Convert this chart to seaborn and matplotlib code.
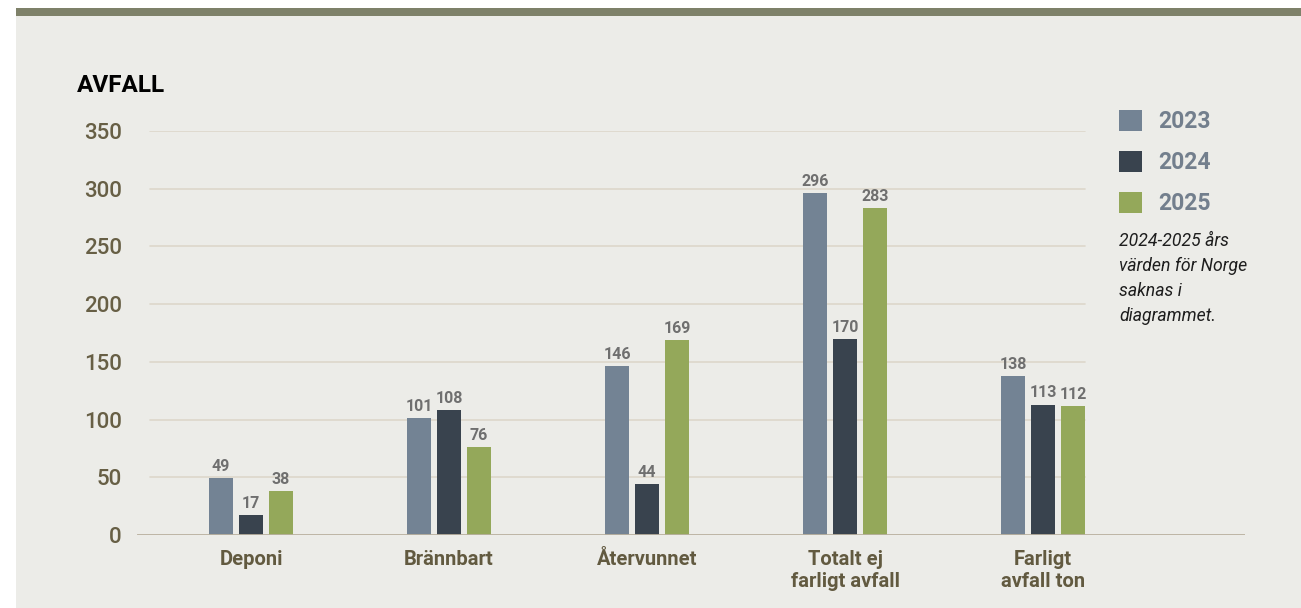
import matplotlib
matplotlib.use("Agg")
import matplotlib.pyplot as plt
import seaborn as sns
import pandas as pd
from matplotlib.patches import Rectangle

categories = ["Deponi", "Brännbart", "Återvunnet", "Totalt ej\nfarligt avfall", "Farligt\navfall ton"]
years = ["2023", "2024", "2025"]
values_2023 = [49, 101, 146, 296, 138]
values_2024 = [17, 108, 44, 170, 113]
values_2025 = [38, 76, 169, 283, 112]
yticks = [0, 50, 100, 150, 200, 250, 300, 350]
colors = ["#738394", "#39434e", "#94a85a"]
note = "2024-2025 års\nvärden för Norge\nsaknas i\ndiagrammet."

rows = []
for yr, vals in zip(years, [values_2023, values_2024, values_2025]):
    for c, v in zip(categories, vals):
        rows.append({"cat": c, "year": yr, "val": v})
df = pd.DataFrame(rows)

sns.set_theme(style="white")
plt.rcParams["font.family"] = ["Roboto", "DejaVu Sans"]

W, H = 1301, 608
fig = plt.figure(figsize=(W / 100, H / 100), dpi=100, facecolor="white")
bg = "#ecece8"
fig.patches.append(Rectangle((16 / W, 0), 1 - 16 / W, 1 - 8 / H, transform=fig.transFigure,
                             facecolor=bg, edgecolor="none", zorder=-10))
fig.patches.append(Rectangle((16 / W, 1 - 16 / H), 1 - 16 / W, 8 / H, transform=fig.transFigure,
                             facecolor="#7e8169", edgecolor="none", zorder=-9))

left, right = 137 / W, 1245 / W
bottom, top = 1 - 535 / H, 1 - 131 / H
ax = fig.add_axes([left, bottom, right - left, top - bottom])
ax.set_facecolor("none")

sns.barplot(data=df, x="cat", y="val", hue="year", palette=colors, width=0.455, gap=0.2,
            ax=ax, saturation=1, legend=True, zorder=3, linewidth=0, edgecolor="none")

ax.set_xlim(-0.576, 5.02)
ax.set_ylim(0, 350)
for s in ax.spines.values():
    s.set_visible(False)

x0 = (150 - 137) / (1245 - 137)
x1 = (1085 - 137) / (1245 - 137)
for t in yticks[1:]:
    ax.axhline(t, xmin=x0, xmax=x1, color="#ddd7cb", lw=1.2, zorder=1)
ax.axhline(0, color="#b9b09f", lw=2, zorder=4)

ax.set_yticks(yticks)
ax.set_yticklabels([str(t) for t in yticks], fontsize=16, color="#675f45", fontweight="medium")
ax.tick_params(axis="y", length=0, pad=11)
ax.tick_params(axis="x", length=0, pad=11)
ax.set_xticks(range(len(categories)))
ax.set_xticklabels(categories, fontsize=14.5, color="#625a40", fontweight="bold", linespacing=1.2)
ax.set_xlabel("")
ax.set_ylabel("")

for cont in ax.containers:
    ax.bar_label(cont, padding=3, fontsize=11.5, color="#6f6f6f", fontweight="bold")

handles, labels = ax.get_legend_handles_labels()
ax.legend_.remove()
leg = fig.legend(handles, labels, loc="upper left", bbox_to_anchor=(1110 / W, 1 - 101 / H),
                 frameon=False, fontsize=16.5, handlelength=1.0, handleheight=1.0,
                 labelspacing=0.78, handletextpad=0.7, borderaxespad=0)
for t in leg.get_texts():
    t.set_color("#737f8d")
    t.set_fontweight("bold")

fig.text(1119 / W, 1 - 232 / H, note, fontsize=12.7, style="italic", color="#1e1e1e",
         va="top", ha="left", linespacing=1.5)
fig.text(77 / W, 1 - 86 / H, "AVFALL", fontsize=17.5, fontweight="bold", color="black",
         va="center", ha="left")

fig.savefig("out.png", dpi=100, facecolor="white")
